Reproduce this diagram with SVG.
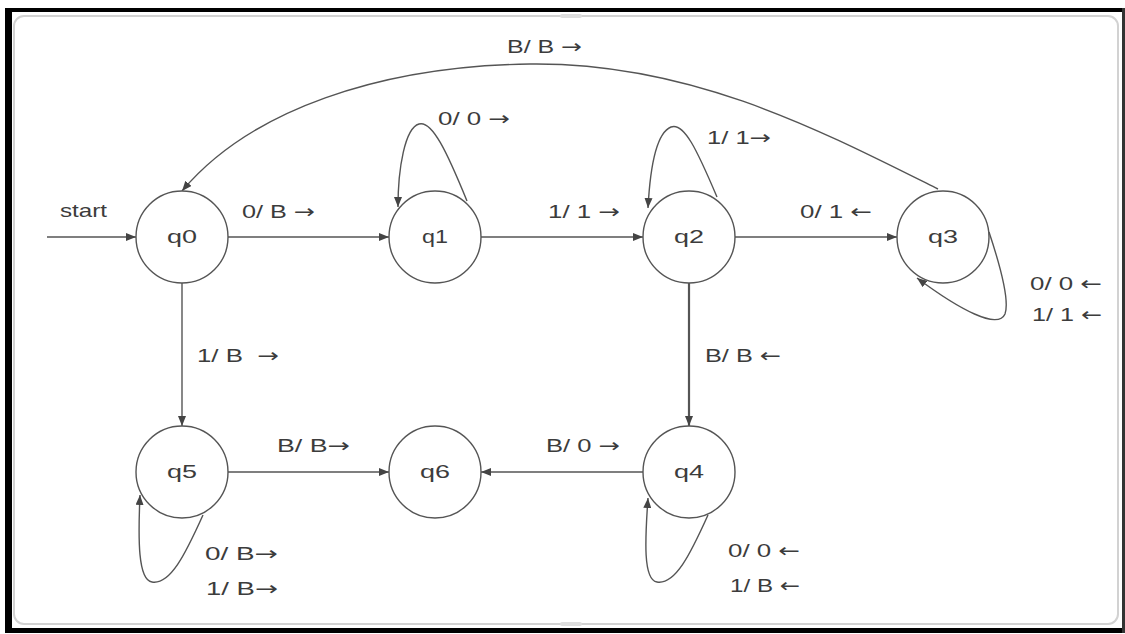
<svg xmlns="http://www.w3.org/2000/svg" width="1125" height="634" viewBox="0 0 1125 634">
<style>
.st{fill:#fff;stroke:#555;stroke-width:1.4}
.lb{font-family:"Liberation Sans",Arial,"DejaVu Sans",sans-serif;font-size:19px;fill:#3c3c3c}
.ar{font-family:"DejaVu Sans",sans-serif}
.nl{font-family:"Liberation Sans",Arial,"DejaVu Sans",sans-serif;font-size:19px;fill:#3c3c3c;text-anchor:middle}
.ed{fill:none;stroke:#555;stroke-width:1.4;marker-end:url(#ah)}
</style>
<defs>
<marker id="ah" markerWidth="10" markerHeight="8" refX="10" refY="4" orient="auto" markerUnits="userSpaceOnUse">
<path d="M0,0 L10,4 L0,8 Z" fill="#444"/>
</marker>
</defs>
<g id="frame">
<rect x="0" y="0" width="1125" height="634" fill="#fff"/>
<rect x="5" y="8" width="1120" height="4" fill="#000"/>
<rect x="5" y="8" width="7" height="625" fill="#000"/>
<rect x="5" y="628" width="1120" height="5" fill="#000"/>
<rect x="1122" y="8" width="3" height="625" fill="#333"/>
<rect x="14" y="16" width="1104" height="608" rx="10" fill="#fff" stroke="#d2d2d2" stroke-width="2"/>
<rect x="560" y="14" width="22" height="4" rx="2" fill="#ddd"/>
<rect x="560" y="622" width="22" height="4" rx="2" fill="#ddd"/>
</g>
<g id="connectors">
<path class="ed" d="M47 237 L136 237"/>
<path class="ed" d="M228 237 L389 237"/>
<path class="ed" d="M481 237 L643 237"/>
<path class="ed" d="M735 237 L897 237"/>
<path class="ed" d="M182 283 L182 426"/>
<path class="ed" d="M689 283 L689 426" style="stroke-width:2.2"/>
<path class="ed" d="M228 472 L389 472"/>
<path class="ed" d="M643 472 L481 472"/>
<path class="ed" d="M938 189 C820 130 690 62 530 64 C380 66 250 110 182 191"/>
<path class="ed" d="M467 201 C447 152 432 120 419 124 C405 128 398 168 398 207"/>
<path class="ed" d="M717 197 C697 150 684 122 671 127 C656 133 650 170 648 208"/>
<path class="ed" d="M989 232 C1000 265 1010 300 1005 314 C998 330 960 310 917 278"/>
<path class="ed" d="M203 515 C185 555 170 585 152 582 C138 580 138 540 140 495"/>
<path class="ed" d="M708 515 C690 555 675 585 657 582 C643 580 645 540 648 498"/>
</g>
<g id="edge-labels">
<text class="lb" x="60" y="217" textLength="47" lengthAdjust="spacingAndGlyphs">start</text>
<text class="lb" x="242" y="218" textLength="73" lengthAdjust="spacingAndGlyphs">0/ B <tspan class="ar">→</tspan></text>
<text class="lb" x="548" y="218" textLength="72" lengthAdjust="spacingAndGlyphs">1/ 1 <tspan class="ar">→</tspan></text>
<text class="lb" x="800" y="218" textLength="72" lengthAdjust="spacingAndGlyphs">0/ 1 <tspan class="ar">←</tspan></text>
<text class="lb" x="507" y="53" textLength="75" lengthAdjust="spacingAndGlyphs">B/ B <tspan class="ar">→</tspan></text>
<text class="lb" x="438" y="125" textLength="72" lengthAdjust="spacingAndGlyphs">0/ 0 <tspan class="ar">→</tspan></text>
<text class="lb" x="707" y="144" textLength="64" lengthAdjust="spacingAndGlyphs">1/ 1<tspan class="ar">→</tspan></text>
<text class="lb" x="1030" y="290" textLength="72" lengthAdjust="spacingAndGlyphs">0/ 0 <tspan class="ar">←</tspan></text>
<text class="lb" x="1032" y="321" textLength="70" lengthAdjust="spacingAndGlyphs">1/ 1 <tspan class="ar">←</tspan></text>
<text class="lb" x="197" y="362" textLength="82" lengthAdjust="spacingAndGlyphs" xml:space="preserve">1/ B  <tspan class="ar">→</tspan></text>
<text class="lb" x="705" y="362" textLength="76" lengthAdjust="spacingAndGlyphs">B/ B <tspan class="ar">←</tspan></text>
<text class="lb" x="277" y="452" textLength="73" lengthAdjust="spacingAndGlyphs">B/ B<tspan class="ar">→</tspan></text>
<text class="lb" x="546" y="452" textLength="74" lengthAdjust="spacingAndGlyphs">B/ 0 <tspan class="ar">→</tspan></text>
<text class="lb" x="205" y="560" textLength="73" lengthAdjust="spacingAndGlyphs">0/ B<tspan class="ar">→</tspan></text>
<text class="lb" x="206" y="595" textLength="72" lengthAdjust="spacingAndGlyphs">1/ B<tspan class="ar">→</tspan></text>
<text class="lb" x="728" y="557" textLength="72" lengthAdjust="spacingAndGlyphs">0/ 0 <tspan class="ar">←</tspan></text>
<text class="lb" x="730" y="592" textLength="70" lengthAdjust="spacingAndGlyphs">1/ B <tspan class="ar">←</tspan></text>
</g>
<g id="q0"><circle class="st" cx="182" cy="237" r="46"/><text class="nl" x="182" y="243" textLength="30" lengthAdjust="spacingAndGlyphs">q0</text></g>
<g id="q1"><circle class="st" cx="435" cy="237" r="46"/><text class="nl" x="435" y="243" textLength="26" lengthAdjust="spacingAndGlyphs">q1</text></g>
<g id="q2"><circle class="st" cx="689" cy="237" r="46"/><text class="nl" x="689" y="243" textLength="30" lengthAdjust="spacingAndGlyphs">q2</text></g>
<g id="q3"><circle class="st" cx="943" cy="237" r="46"/><text class="nl" x="943" y="243" textLength="30" lengthAdjust="spacingAndGlyphs">q3</text></g>
<g id="q5"><circle class="st" cx="182" cy="472" r="46"/><text class="nl" x="182" y="478" textLength="30" lengthAdjust="spacingAndGlyphs">q5</text></g>
<g id="q6"><circle class="st" cx="435" cy="472" r="46"/><text class="nl" x="435" y="478" textLength="30" lengthAdjust="spacingAndGlyphs">q6</text></g>
<g id="q4"><circle class="st" cx="689" cy="472" r="46"/><text class="nl" x="689" y="478" textLength="30" lengthAdjust="spacingAndGlyphs">q4</text></g>
</svg>
